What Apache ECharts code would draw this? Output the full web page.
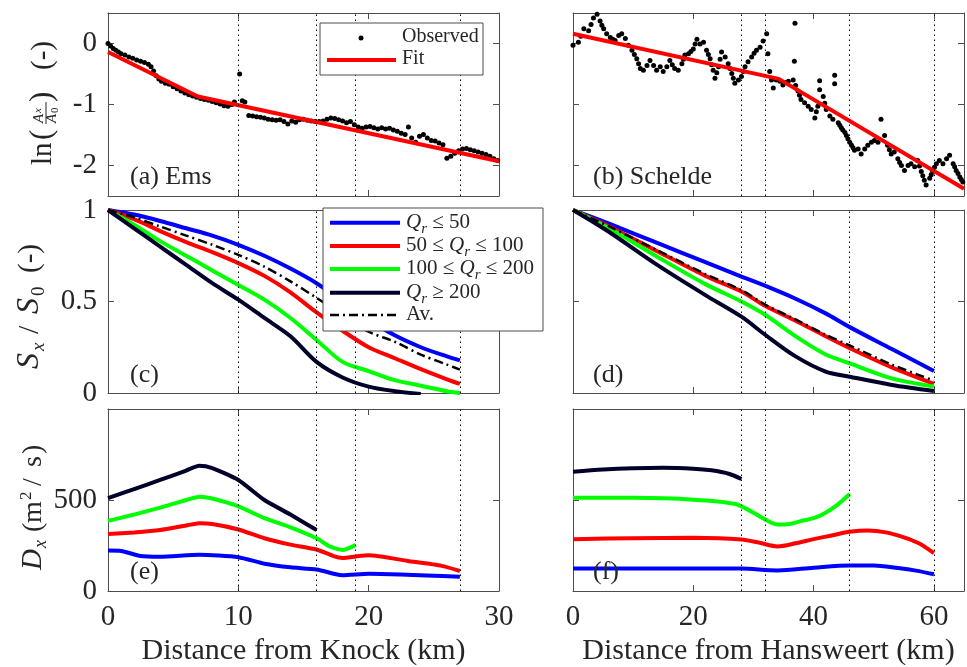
<!DOCTYPE html>
<html>
<head>
<meta charset="utf-8">
<script src="https://cdn.jsdelivr.net/npm/echarts@6/dist/echarts.min.js"></script>
<style>
  html, body { margin: 0; padding: 0; background: #fff; }
  #chart { width: 967px; height: 667px; }
</style>
</head>
<body>
<div id="chart"></div>
<script>
const FONT = '"Liberation Serif", "Times New Roman", serif'
const TXT = '#262626'
const AXC = '#4d4d4d'

// (a) Ems, ln(Ax/A0): observed points and piecewise fit
const emsObs = [
  [0.0, 0.00], [0.2, -0.04], [0.4, -0.08], [0.6, -0.11], [0.8, -0.14], [1.0, -0.17], [1.3, -0.19], [1.6, -0.22],
  [1.9, -0.24], [2.2, -0.27], [2.5, -0.29], [2.8, -0.31], [3.1, -0.34], [3.3, -0.38], [3.5, -0.45], [3.7, -0.53],
  [3.9, -0.58], [4.1, -0.62], [4.4, -0.65], [4.7, -0.67], [5.0, -0.71], [5.3, -0.74], [5.6, -0.78], [5.9, -0.81],
  [6.2, -0.84], [6.5, -0.86], [6.8, -0.88], [7.1, -0.90], [7.4, -0.92], [7.7, -0.93], [8.0, -0.95], [8.3, -0.97],
  [8.6, -0.99], [8.9, -1.02], [9.2, -1.03], [9.5, -1.00], [9.7, -0.96], [10.1, -0.50], [10.3, -0.94], [10.5, -0.96],
  [10.8, -1.18], [11.1, -1.19], [11.4, -1.20], [11.7, -1.21], [12.0, -1.22], [12.3, -1.24], [12.6, -1.25], [12.9, -1.26],
  [13.2, -1.25], [13.5, -1.28], [13.8, -1.32], [14.1, -1.27], [14.4, -1.29], [14.7, -1.25], [15.0, -1.24], [15.3, -1.26],
  [15.6, -1.27], [15.9, -1.28], [16.2, -1.28], [16.5, -1.27], [16.8, -1.24], [17.1, -1.22], [17.4, -1.23], [17.7, -1.25],
  [18.0, -1.27], [18.3, -1.30], [18.6, -1.28], [18.9, -1.33], [19.2, -1.37], [19.5, -1.39], [19.8, -1.37], [20.1, -1.36],
  [20.4, -1.38], [20.7, -1.40], [21.0, -1.38], [21.3, -1.40], [21.6, -1.39], [21.9, -1.42], [22.2, -1.44], [22.5, -1.47],
  [22.8, -1.49], [23.05, -1.37], [23.3, -1.55], [23.6, -1.62], [23.9, -1.52], [24.2, -1.49], [24.5, -1.55], [24.8, -1.59],
  [25.1, -1.60], [25.4, -1.63], [25.7, -1.66], [26.0, -1.88], [26.3, -1.85], [26.6, -1.80], [26.9, -1.76], [27.2, -1.73],
  [27.5, -1.72], [27.8, -1.74], [28.1, -1.76], [28.4, -1.78], [28.7, -1.80], [29.0, -1.82], [29.3, -1.85], [29.6, -1.89],
  [29.9, -1.92]
]
const emsFit = [[0, -0.14], [6.9, -0.87], [30, -1.93]]
const emsSections = [10, 16, 19, 27]

// (b) Schelde, ln(Ax/A0)
const schObs = [
  [0.0, -0.03], [0.9, 0.02], [1.3, 0.12], [1.8, 0.24], [2.6, 0.21], [3.0, 0.31], [3.4, 0.42], [4.0, 0.48],
  [4.5, 0.37], [4.8, 0.30], [5.1, 0.24], [5.6, 0.16], [6.2, 0.10], [6.6, 0.07], [7.0, 0.05], [7.6, 0.13],
  [8.1, 0.16], [8.7, 0.08], [9.2, -0.03], [9.8, -0.11], [10.2, -0.18], [10.6, -0.25], [10.9, -0.33], [11.2, -0.41],
  [11.7, -0.44], [12.3, -0.36], [12.8, -0.28], [13.4, -0.36], [13.9, -0.44], [14.5, -0.38], [15.0, -0.46], [15.6, -0.38],
  [16.1, -0.28], [16.5, -0.35], [16.9, -0.41], [17.5, -0.44], [18.1, -0.33], [18.35, -0.26], [18.6, -0.19], [19.2, -0.17],
  [19.6, -0.13], [20.0, -0.09], [20.3, -0.01], [20.6, 0.07], [21.1, -0.01], [21.7, 0.02], [22.2, -0.11], [22.5, -0.18],
  [22.8, -0.25], [23.05, -0.35], [23.3, -0.44], [23.6, -0.57], [23.9, -0.48], [24.2, -0.38], [24.45, -0.26], [24.7, -0.14],
  [25.3, -0.22], [25.8, -0.33], [26.1, -0.41], [26.4, -0.49], [26.65, -0.57], [26.9, -0.65], [27.5, -0.60], [28.0, -0.54],
  [28.3, -0.46], [28.6, -0.38], [29.1, -0.30], [29.7, -0.22], [30.1, -0.16], [30.5, -0.11], [31.1, -0.06], [31.6, 0.04],
  [32.2, 0.16], [32.4, -0.17], [32.7, -0.46], [33.0, -0.60], [33.3, -0.73], [33.8, -0.60], [34.4, -0.62], [34.9, -0.68],
  [35.35, -0.64], [35.8, -0.62], [36.6, -0.60], [36.8, -0.29], [36.9, 0.33], [37.0, -0.69], [37.4, -0.78], [37.65, -0.85],
  [37.9, -0.92], [38.5, -0.97], [39.1, -1.03], [39.6, -1.08], [40.2, -1.22], [40.45, -1.12], [40.7, -1.03], [41.0, -0.76],
  [41.0, -0.61], [41.6, -0.87], [41.85, -0.98], [42.1, -1.08], [42.7, -1.19], [43.2, -1.24], [43.5, -0.52], [43.5, -0.66],
  [44.1, -1.30], [44.35, -1.34], [44.6, -1.38], [44.85, -1.42], [45.2, -1.46], [45.45, -1.51], [45.7, -1.56], [46.0, -1.62],
  [46.3, -1.67], [46.55, -1.71], [46.8, -1.75], [47.4, -1.73], [47.9, -1.81], [48.5, -1.73], [49.0, -1.67], [49.6, -1.62],
  [50.1, -1.59], [50.7, -1.62], [51.2, -1.24], [51.8, -1.51], [52.3, -1.67], [52.6, -1.74], [52.9, -1.81], [53.4, -1.78],
  [54.0, -1.89], [54.3, -1.95], [54.6, -2.00], [55.1, -2.08], [55.7, -2.00], [56.2, -1.97], [56.8, -2.02], [57.3, -1.92],
  [57.6, -2.01], [57.9, -2.10], [58.15, -2.17], [58.4, -2.24], [58.7, -2.32], [59.3, -2.21], [59.55, -2.15], [59.8, -2.10],
  [60.1, -2.03], [60.4, -1.97], [60.9, -1.92], [61.5, -1.97], [62.1, -1.89], [62.6, -1.83], [63.2, -1.97], [63.45, -2.02],
  [63.7, -2.08], [64.0, -2.13], [64.3, -2.19], [64.55, -2.23], [64.8, -2.27]
]
const schFit = [[0, 0.16], [34.2, -0.58], [65, -2.38]]
const schSections = [28, 32, 46, 60]

// (c) Ems, Sx/S0 per discharge class
const emsSx = [0, 2, 4, 6, 8, 10, 12, 14, 16, 18, 20, 22, 24, 26, 27]
const emsS50 = [1, 0.975, 0.94, 0.90, 0.86, 0.81, 0.75, 0.68, 0.60, 0.50, 0.40, 0.315, 0.25, 0.20, 0.178]
const emsS100 = [1, 0.95, 0.885, 0.825, 0.77, 0.71, 0.64, 0.55, 0.44, 0.34, 0.25, 0.19, 0.13, 0.075, 0.05]
const emsS200 = [1, 0.92, 0.83, 0.75, 0.67, 0.59, 0.51, 0.41, 0.29, 0.17, 0.12, 0.07, 0.04, 0.01, 0.0]
const emsSbigX = [0, 2, 4, 6, 8, 10, 12, 14, 16, 18, 20, 22, 24]
const emsSbig = [1, 0.90, 0.80, 0.70, 0.60, 0.51, 0.41, 0.31, 0.17, 0.085, 0.035, 0.01, -0.005]
const emsSav = [1, 0.96, 0.91, 0.86, 0.81, 0.755, 0.69, 0.61, 0.52, 0.425, 0.335, 0.28, 0.21, 0.155, 0.128]

// (d) Schelde, Sx/S0
const schSx = [0, 6, 14, 22, 28, 32, 37, 42, 46, 53, 60]
const schS50 = [1, 0.925, 0.82, 0.715, 0.636, 0.585, 0.515, 0.435, 0.36, 0.24, 0.12]
const schS100 = [1, 0.91, 0.775, 0.64, 0.555, 0.475, 0.395, 0.31, 0.245, 0.14, 0.05]
const schS200 = [1, 0.90, 0.745, 0.595, 0.50, 0.426, 0.31, 0.21, 0.162, 0.08, 0.035]
const schSbig = [1, 0.88, 0.70, 0.535, 0.417, 0.317, 0.20, 0.117, 0.089, 0.044, 0.011]
const schSav = [1, 0.91, 0.78, 0.65, 0.562, 0.482, 0.402, 0.318, 0.26, 0.155, 0.068]

// (e) Ems, Dx (m2/s)
const emsD50 = [[0, 222], [1, 220], [2.5, 192], [4, 188], [7, 199], [10, 186], [12, 150], [14, 130], [16, 118], [17.5, 92], [18, 87], [20, 95], [27, 78]]
const emsD100 = [[0, 313], [2, 322], [4, 335], [6, 360], [7, 372], [8, 368], [10, 338], [12, 290], [14, 255], [16, 228], [17.3, 192], [18, 182], [19, 190], [20, 196], [23, 165], [25.6, 138], [27, 110]]
const emsD200 = [[0, 385], [2, 420], [4, 458], [6, 500], [7, 518], [8, 508], [10, 465], [12, 400], [14, 350], [16, 290], [17, 245], [18, 225], [19, 252]]
const emsDbig = [[0, 510], [2, 560], [4, 610], [6, 662], [7, 688], [8, 675], [10, 610], [12, 500], [14, 420], [16, 335]]

// (f) Schelde, Dx (m2/s)
const schD50 = [[0, 124], [10, 124], [20, 124], [28, 123], [34, 113], [40, 128], [46, 140], [50, 140], [54, 126], [57, 112], [60, 92]]
const schD100 = [[0, 285], [10, 290], [20, 292], [28, 283], [31, 265], [34, 245], [37, 262], [40, 285], [43, 305], [46, 325], [49, 332], [52, 322], [55, 295], [57.5, 262], [60, 208]]
const schD200 = [[0, 513], [10, 512], [15, 509], [20, 502], [24, 492], [27, 478], [28, 465], [30, 430], [32, 392], [34, 365], [36, 368], [38, 385], [40, 400], [42, 430], [44, 475], [46, 533]]
const schDbig = [[0, 655], [5, 668], [10, 675], [15, 677], [20, 672], [23, 663], [26, 643], [28, 615]]

const xTicksEms = [0, 10, 20, 30]
const xTicksSch = [0, 20, 40, 60]
const yTicksLn = [-2, -1, 0]
const yTicksS = [0, 0.5, 1]
const yTicksD = [0, 500]

const C50 = '#0000ff'
const C100 = '#ff0000'
const C200 = '#00ff00'
const CBIG = '#00002a'
const CAV = '#000000'
const DASHDOT = [9, 4, 2, 4]

const zip = (xs, ys) => xs.map((x, i) => [x, ys[i]])

var myChart = echarts.init(document.getElementById('chart'))

// layout: 2 columns x 3 rows
const cols = [
  { left: 108, max: 30, ticks: xTicksEms, title: 'Distance from Knock (km)' },
  { left: 573, max: 65, ticks: xTicksSch, title: 'Distance from Hansweert (km)' }
]
const rows = [
  { top: 13, min: -2.5, max: 0.5, ticks: yTicksLn },
  { top: 210, min: 0, max: 1, ticks: yTicksS },
  { top: 409, min: 0, max: 1000, ticks: yTicksD }
]

const grid = []
const xAxis = []
const yAxis = []
rows.forEach((r, ri) => {
  cols.forEach((c, ci) => {
    const gi = ri * 2 + ci
    grid.push({ left: c.left, top: r.top, width: 391, height: 183 })
    const line = { show: true, onZero: false, lineStyle: { color: AXC, width: 1 } }
    const tick = { show: true, inside: true, length: 6, lineStyle: { color: AXC, width: 1 } }
    const lab = { color: TXT, fontFamily: FONT, fontSize: 29 }
    xAxis.push({
      type: 'value', gridIndex: gi, min: 0, max: c.max, position: 'bottom',
      axisLine: line, axisTick: { ...tick, customValues: c.ticks },
      axisLabel: { ...lab, show: ri === 2, customValues: c.ticks, margin: 12 },
      splitLine: { show: false },
      name: ri === 2 ? c.title : '', nameLocation: 'middle', nameGap: 45,
      nameTextStyle: { color: TXT, fontFamily: FONT, fontSize: 30 }
    })
    xAxis.push({
      type: 'value', gridIndex: gi, min: 0, max: c.max, position: 'top',
      axisLine: line, axisTick: { ...tick, customValues: c.ticks },
      axisLabel: { show: false }, splitLine: { show: false }
    })
    yAxis.push({
      type: 'value', gridIndex: gi, min: r.min, max: r.max, position: 'left',
      axisLine: line, axisTick: { ...tick, customValues: r.ticks },
      axisLabel: { ...lab, show: ci === 0, customValues: r.ticks, margin: 11 },
      splitLine: { show: false }
    })
    yAxis.push({
      type: 'value', gridIndex: gi, min: r.min, max: r.max, position: 'right',
      axisLine: line, axisTick: { ...tick, customValues: r.ticks },
      axisLabel: { show: false }, splitLine: { show: false }
    })
  })
})

function curve(gi, data, color, width, dash, smooth) {
  return {
    type: 'line', xAxisIndex: gi * 2, yAxisIndex: gi * 2, data: data,
    showSymbol: false, symbol: 'none', smooth: smooth || 0, z: 3,
    lineStyle: { color: color, width: width, type: dash || 'solid' }
  }
}
function sections(gi, vals) {
  return {
    type: 'line', xAxisIndex: gi * 2, yAxisIndex: gi * 2, data: [], z: 1,
    markLine: {
      silent: true, symbol: 'none', label: { show: false },
      lineStyle: { type: [1.5, 3.5], color: '#000', width: 1 },
      data: vals.map(v => ({ xAxis: v }))
    }
  }
}
function dots(gi, data) {
  return {
    type: 'scatter', xAxisIndex: gi * 2, yAxisIndex: gi * 2, data: data,
    symbolSize: 5, itemStyle: { color: '#000', opacity: 1 }, z: 2
  }
}

const series = []
// sections dotted lines for every panel
;[0, 2, 4].forEach(gi => series.push(sections(gi, emsSections)))
;[1, 3, 5].forEach(gi => series.push(sections(gi, schSections)))

series.push(dots(0, emsObs), curve(0, emsFit, C100, 4))
series.push(dots(1, schObs), curve(1, schFit, C100, 4))

series.push(
  curve(2, zip(emsSx, emsS50), C50, 4, null, 0.3),
  curve(2, zip(emsSx, emsS100), C100, 4, null, 0.3),
  curve(2, zip(emsSx, emsS200), C200, 4, null, 0.3),
  curve(2, zip(emsSbigX, emsSbig), CBIG, 4, null, 0.3),
  curve(2, zip(emsSx, emsSav), CAV, 2.5, DASHDOT, 0.3)
)
series.push(
  curve(3, zip(schSx, schS50), C50, 4, null, 0.3),
  curve(3, zip(schSx, schS100), C100, 4, null, 0.3),
  curve(3, zip(schSx, schS200), C200, 4, null, 0.3),
  curve(3, zip(schSx, schSbig), CBIG, 4, null, 0.3),
  curve(3, zip(schSx, schSav), CAV, 2.5, DASHDOT, 0.3)
)
series.push(
  curve(4, emsD50, C50, 4, null, 0.2),
  curve(4, emsD100, C100, 4, null, 0.2),
  curve(4, emsD200, C200, 4, null, 0.2),
  curve(4, emsDbig, CBIG, 4, null, 0.2)
)
series.push(
  curve(5, schD50, C50, 4, null, 0.3),
  curve(5, schD100, C100, 4, null, 0.3),
  curve(5, schD200, C200, 4, null, 0.3),
  curve(5, schDbig, CBIG, 4, null, 0.3)
)

// text helpers (baseline placement, with sub/superscripts)
const mctx = document.createElement('canvas').getContext('2d')
function txt(t, x, base, size, italic, z) {
  return {
    type: 'text', x: x, y: base - 0.34 * size, z: z || 10,
    style: {
      text: t, fill: TXT, fontSize: size, fontFamily: FONT, fontStyle: italic ? 'italic' : 'normal',
      align: 'left', verticalAlign: 'middle', textAlign: 'left', textVerticalAlign: 'middle'
    }
  }
}
function runText(x0, base, segs, z) {
  let x = x0
  return segs.map(([t, size, italic, dy]) => {
    const el = txt(t, x, base + (dy || 0), size, italic, z)
    mctx.font = (italic ? 'italic ' : '') + size + 'px ' + FONT
    x += mctx.measureText(t).width
    return el
  })
}
function vlabel(ax, ay, pieces, extra) {
  return {
    type: 'group', x: ax, y: ay, rotation: Math.PI / 2,
    children: pieces.map(p => txt(p[0], p[1], p[2], p[3], p[4])).concat(extra || [])
  }
}

const graphic = []
// panel tags
;[['(a) Ems', 130, 186], ['(b) Schelde', 593, 186], ['(c)', 130, 384], ['(d)', 593, 384], ['(e)', 130, 581], ['(f)', 593, 581]]
  .forEach(p => graphic.push(txt(p[0], p[1], p[2], 26, false)))

// y axis titles
graphic.push(vlabel(53, 165, [
  ['ln', 0, 0, 29], ['(', 25, 0, 31], ['A', 42, -9, 15, true], ['x', 52, -11, 11, true],
  ['A', 42, 4, 15, true], ['0', 52, 6, 11], [')', 63, 0, 31], ['(-)', 95, 0, 29]
], [{ type: 'line', shape: { x1: 41, y1: -7, x2: 63, y2: -7 }, style: { stroke: TXT, lineWidth: 1 } }]))
graphic.push(vlabel(40, 370, [
  ['S', 1, 0, 32, true], ['x', 19, 5, 19, true], ['/', 36, 0, 30], ['S', 56, 0, 32, true],
  ['0', 74, 5, 19], ['(-)', 97, 0, 29]
]))
graphic.push(vlabel(43, 570, [
  ['D', 0, 0, 29, true], ['x', 22, 4, 18, true], ['(', 38, 0, 28], ['m', 47, 0, 28],
  ['2', 70, -11, 17], ['/', 84, 0, 28], ['s', 103, 0, 28], [')', 116, 0, 28]
]))

// legend of panel (a)
graphic.push({
  type: 'group',
  children: [
    { type: 'rect', z: 100, shape: { x: 320, y: 23, width: 163, height: 52 }, style: { fill: '#fff', stroke: AXC, lineWidth: 1 } },
    { type: 'circle', z: 101, shape: { cx: 361, cy: 38, r: 2.5 }, style: { fill: '#000' } },
    { type: 'line', z: 101, shape: { x1: 327, y1: 60, x2: 396, y2: 60 }, style: { stroke: C100, lineWidth: 4 } },
    txt('Observed', 402, 44, 20, false, 101),
    txt('Fit', 402, 66, 20, false, 101)
  ]
})

// legend of panel (c)
const legRows = [
  { y: 222.7, color: C50, w: 4, segs: [['Q', 21, true], ['r', 15, true, 4], [' \u2264 50', 21]] },
  { y: 246, color: C100, w: 4, segs: [['50 \u2264 ', 21], ['Q', 21, true], ['r', 15, true, 4], [' \u2264 100', 21]] },
  { y: 269, color: C200, w: 4, segs: [['100 \u2264 ', 21], ['Q', 21, true], ['r', 15, true, 4], [' \u2264 200', 21]] },
  { y: 292.7, color: CBIG, w: 4, segs: [['Q', 21, true], ['r', 15, true, 4], [' \u2265 200', 21]] },
  { y: 315, color: CAV, w: 2.5, dash: DASHDOT, segs: [['Av.', 21]] }
]
const legC = [{ type: 'rect', z: 100, shape: { x: 323, y: 208, width: 220, height: 123 }, style: { fill: '#fff', stroke: AXC, lineWidth: 1 } }]
legRows.forEach(r => {
  legC.push({ type: 'line', z: 101, shape: { x1: 330, y1: r.y, x2: 400, y2: r.y }, style: { stroke: r.color, lineWidth: r.w, lineDash: r.dash || null } })
  runText(406, r.y + 7, r.segs, 101).forEach(e => legC.push(e))
})
graphic.push({ type: 'group', children: legC })

let option = {
  backgroundColor: '#fff',
  animation: false,
  textStyle: { fontFamily: FONT },
  grid: grid,
  xAxis: xAxis,
  yAxis: yAxis,
  series: series,
  graphic: graphic
}
myChart.setOption(option)
</script>
</body>
</html>
